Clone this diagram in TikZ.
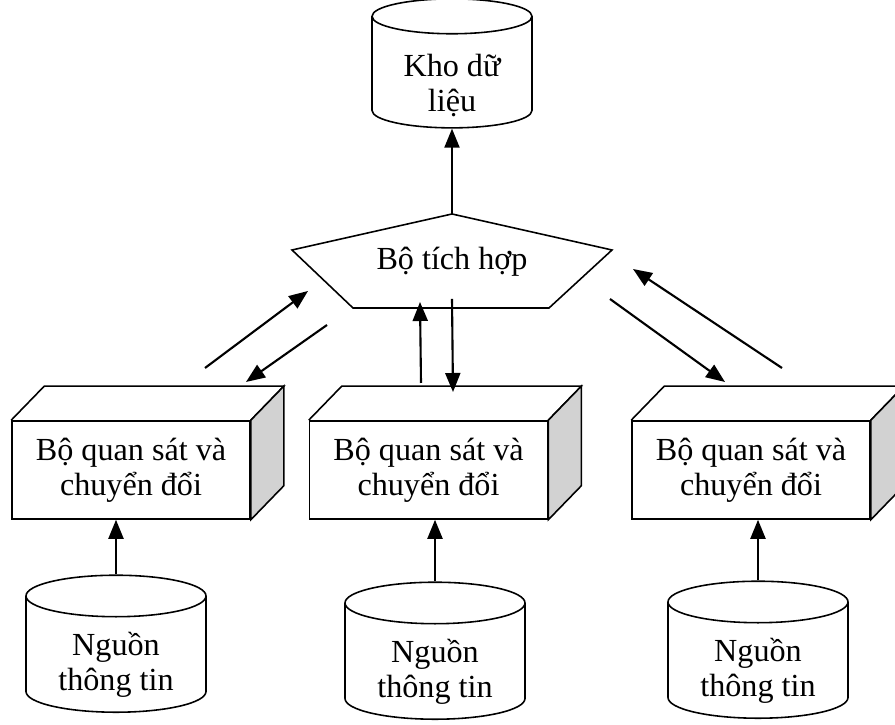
\documentclass[tikz,border=0pt]{standalone}
\usepackage{fontspec}
\setmainfont{Liberation Serif}
\usetikzlibrary{arrows.meta,shapes.geometric}

\tikzset{
  txt/.style={font=\fontsize{18.3}{19.8}\selectfont, align=center},
  store/.style={draw, line width=0.9pt, cylinder, shape border rotate=90, aspect=0.36, inner sep=0pt, txt},
  obsbox/.style={draw, line width=0.9pt, minimum width=4.76cm, minimum height=1.96cm, txt},
  arr/.style={-{Triangle[length=0.38cm,width=0.3cm]}, line width=1.2pt},
}

\begin{document}
\begin{tikzpicture}
  \useasboundingbox (0,0) rectangle (17.9,14.5);
  % kho du lieu
  \node[store, minimum width=3.2cm, minimum height=2.58cm,
        label={[txt, yshift=-0.26cm]center:Kho dữ\\liệu}] (kho) at (9.04,13.05)
        {\phantom{\shortstack{Kho dữ\\liệu}}};
  % bo tich hop
  \node[txt] (integ) at (9.04,9.26) {Bộ tích hợp};
  \draw[line width=0.9pt] (9.04,10.22) coordinate (pT) -- (5.84,9.50) -- (7.06,8.34) -- (10.98,8.34) -- (12.24,9.50) -- cycle;
  % observers
  \foreach \n/\x in {obsL/2.62,obsM/8.57,obsR/15.02} {
    \node[obsbox] (\n) at (\x,5.10) {Bộ quan sát và\\chuyển đổi};
    \draw[line width=0.9pt] (\n.north west) -- ++(0.66,0.68) -- ([shift={(0.66,0.68)}]\n.north east) -- (\n.north east);
    \filldraw[line width=0.9pt, fill=gray!35] (\n.north east) -- ++(0.66,0.68) -- ([shift={(0.66,0.68)}]\n.south east) -- (\n.south east) -- cycle;
  }
  % sources
  \foreach \n/\x/\y in {srcL/2.32/1.41,srcM/8.70/1.27,srcR/15.16/1.29}
    \node[store, minimum width=3.6cm, minimum height=2.74cm,
          label={[txt, yshift=-0.2cm]center:Nguồn\\thông tin}] (\n) at (\x,\y)
          {\phantom{\shortstack{Nguồn\\thông tin}}};
  \foreach \s/\o in {srcL/obsL,srcM/obsM,srcR/obsR}
    \draw[arr] (\s.north) -- (\s.north |- \o.south);
  % arrow ends
  \coordinate (lA) at (4.10,7.14); \coordinate (lB) at (6.16,8.68);
  \coordinate (lC) at (6.54,8.00); \coordinate (lD) at (4.92,6.86);
  \coordinate (mA) at (8.42,6.84); \coordinate (mB) at (8.40,8.46);
  \coordinate (mC) at (9.04,8.52); \coordinate (mD) at (9.06,6.66);
  \coordinate (rA) at (15.64,7.14); \coordinate (rB) at (12.66,9.12);
  \coordinate (rC) at (12.20,8.52); \coordinate (rD) at (14.50,6.86);
  \draw[arr] (pT) -- (kho.south);
  \draw[arr] (lA) -- (lB);
  \draw[arr] (lC) -- (lD);
  \draw[arr] (mA) -- (mB);
  \draw[arr] (mC) -- (mD);
  \draw[arr] (rA) -- (rB);
  \draw[arr] (rC) -- (rD);
\end{tikzpicture}
\end{document}
